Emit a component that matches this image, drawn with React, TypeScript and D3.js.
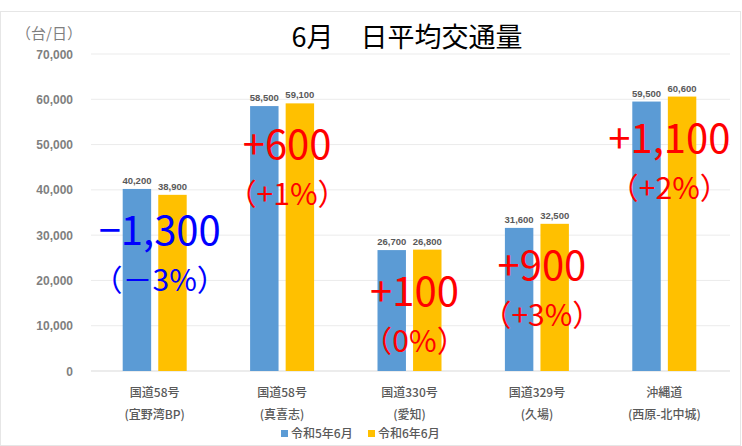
import React, { useRef, useEffect } from 'react';
import * as d3 from 'd3';

// data
const categories = ['国道58号', '国道58号', '国道330号', '国道329号', '沖縄道'];
const subLabels = ['(宜野湾BP)', '(真喜志)', '(愛知)', '(久場)', '(西原-北中城)'];
const seriesNames = ['令和5年6月', '令和6年6月'];
const r5Values = [40200, 58500, 26700, 31600, 59500];
const r6Values = [38900, 59100, 26800, 32500, 60600];
const diffLabels = ['−1,300', '+600', '+100', '+900', '+1,100'];
const pctLabels = ['（－3%）', '（+1%）', '（0%）', '（+3%）', '（+2%）'];
const yTicks = [0, 10000, 20000, 30000, 40000, 50000, 60000, 70000];

const colors = ['#5B9BD5', '#FFC000'];
const W = 742;
const H = 446;

const App = () => {
  const Svg = useRef<SVGSVGElement>(null);

  useEffect(() => {
    const svg = d3.select(Svg.current);
    svg.selectAll('*').remove();

    const x = d3
      .scaleBand<number>()
      .domain(categories.map((_, i) => i))
      .range([91, 728]);
    const xs = d3.scaleBand<number>().domain([0, 1]).range([0, 64]).paddingInner(0.2);
    const y = d3.scaleLinear().domain([0, 70000]).range([371, 54]);

    // card border
    svg
      .append('rect')
      .attr('x', 0.5)
      .attr('y', 11.5)
      .attr('width', W - 2)
      .attr('height', H - 12)
      .attr('fill', '#fff')
      .attr('stroke', '#e6e6e6');

    // grid + y tick labels
    const grid = svg.append('g');
    grid
      .selectAll('line')
      .data(yTicks)
      .enter()
      .append('line')
      .attr('x1', 91)
      .attr('x2', 730)
      .attr('y1', (d) => y(d))
      .attr('y2', (d) => y(d))
      .attr('stroke', (d) => (d === 0 ? '#d9d9d9' : '#ebebeb'))
      .attr('stroke-width', 1);
    grid
      .selectAll('text')
      .data(yTicks)
      .enter()
      .append('text')
      .attr('x', 73)
      .attr('y', (d) => y(d) + 4.5)
      .attr('text-anchor', 'end')
      .attr('font-family', 'Liberation Sans, Arial, sans-serif')
      .attr('font-weight', 'bold')
      .attr('font-size', 12)
      .attr('fill', '#7f7f7f')
      .text((d) => d3.format(',')(d));

    // unit + title
    svg
      .append('text')
      .attr('x', 16)
      .attr('y', 39)
      .attr('font-family', 'Noto Sans CJK JP, sans-serif')
      .attr('font-size', 15)
      .attr('fill', '#7f7f7f')
      .text('（台/日）');
    svg
      .append('text')
      .attr('x', 407)
      .attr('y', 47)
      .attr('text-anchor', 'middle')
      .attr('font-family', 'Noto Sans CJK JP, sans-serif')
      .attr('font-size', 27)
      .attr('fill', '#000')
      .text('6月　日平均交通量');

    // bars
    const series = [r5Values, r6Values];
    series.forEach((vals, s) => {
      const g = svg.append('g');
      g.selectAll('rect')
        .data(vals)
        .enter()
        .append('rect')
        .attr('x', (d, i) => x(i)! + (x.bandwidth() - 64) / 2 + xs(s)!)
        .attr('y', (d) => y(d))
        .attr('width', xs.bandwidth())
        .attr('height', (d) => y(0) - y(d))
        .attr('fill', colors[s]);
      g.selectAll('text')
        .data(vals)
        .enter()
        .append('text')
        .attr('x', (d, i) => x(i)! + (x.bandwidth() - 64) / 2 + xs(s)! + xs.bandwidth() / 2)
        .attr('y', (d) => y(d) - 5)
        .attr('text-anchor', 'middle')
        .attr('font-family', 'Liberation Sans, Arial, sans-serif')
        .attr('font-weight', 'bold')
        .attr('font-size', 9.5)
        .attr('fill', '#595959')
        .text((d) => d3.format(',')(d));
    });

    // category labels
    const cats = svg.append('g');
    cats
      .selectAll('text.c1')
      .data(categories)
      .enter()
      .append('text')
      .attr('class', 'c1')
      .attr('x', (d, i) => x(i)! + x.bandwidth() / 2)
      .attr('y', 397)
      .attr('text-anchor', 'middle')
      .attr('font-family', 'Noto Sans CJK JP, sans-serif')
      .attr('font-weight', 500)
      .attr('font-size', 12)
      .attr('fill', '#595959')
      .text((d) => d);
    cats
      .selectAll('text.c2')
      .data(subLabels)
      .enter()
      .append('text')
      .attr('class', 'c2')
      .attr('x', (d, i) => x(i)! + x.bandwidth() / 2)
      .attr('y', 419)
      .attr('text-anchor', 'middle')
      .attr('font-family', 'Noto Sans CJK JP, sans-serif')
      .attr('font-weight', 500)
      .attr('font-size', 12)
      .attr('fill', '#595959')
      .text((d) => d);

    // legend
    const leg = svg.append('g');
    const legX = [281, 368];
    seriesNames.forEach((name, s) => {
      leg
        .append('rect')
        .attr('x', legX[s])
        .attr('y', 430)
        .attr('width', 7)
        .attr('height', 7)
        .attr('fill', colors[s]);
      leg
        .append('text')
        .attr('x', legX[s] + 10)
        .attr('y', 438)
        .attr('font-family', 'Noto Sans CJK JP, sans-serif')
        .attr('font-weight', 500)
        .attr('font-size', 12)
        .attr('fill', '#595959')
        .text(name);
    });

    // difference annotations
    const ann = svg.append('g').attr('font-family', 'Noto Sans CJK JP, sans-serif');
    const topOf = (i: number) => y(Math.max(r5Values[i], r6Values[i]));
    const annColor = (i: number) => (r6Values[i] < r5Values[i] ? '#0000FF' : '#FF0000');
    ann
      .selectAll('text.d')
      .data(diffLabels)
      .enter()
      .append('text')
      .attr('class', 'd')
      .attr('x', (d, i) => x(i)! + x.bandwidth() / 2 + 5)
      .attr('y', (d, i) => topOf(i) + 56)
      .attr('text-anchor', 'middle')
      .attr('font-size', 40)
      .attr('fill', (d, i) => annColor(i))
      .text((d) => d);
    ann
      .selectAll('text.p')
      .data(pctLabels)
      .enter()
      .append('text')
      .attr('class', 'p')
      .attr('x', (d, i) => x(i)! + x.bandwidth() / 2 + 5)
      .attr('y', (d, i) => topOf(i) + 102)
      .attr('text-anchor', 'middle')
      .attr('font-size', 30)
      .attr('fill', (d, i) => annColor(i))
      .text((d) => d);
  }, []);

  return (
    <svg
      ref={Svg}
      width={W}
      height={H}
      style={{ position: 'absolute', left: 0, top: 0, display: 'block', background: '#fff' }}
    />
  );
};

export default App;
